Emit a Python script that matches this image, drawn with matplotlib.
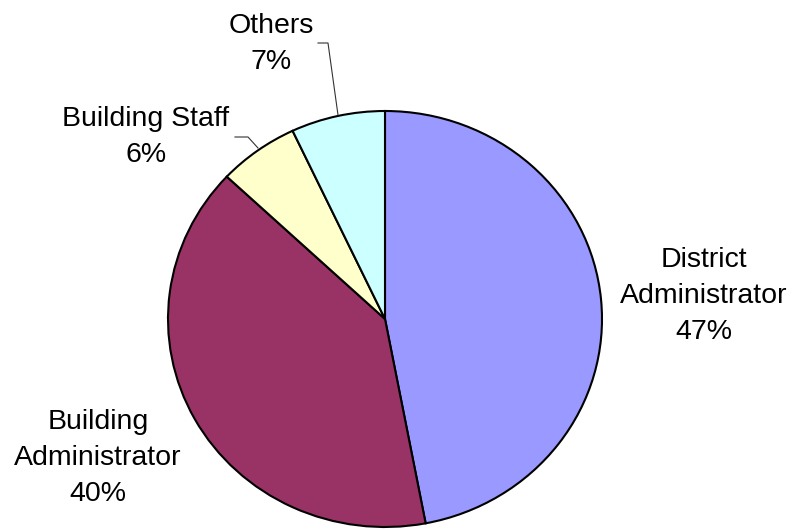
import matplotlib.pyplot as plt

# data
labels = ['District\nAdministrator', 'Building\nAdministrator', 'Building Staff', 'Others']
shares = [47, 40, 6, 7]
colors = ['#9999FF', '#993366', '#FFFFCC', '#CCFFFF']

W, H = 794, 529
cx, cy = 385, 319      # pie centre, pixels from top-left
rx, ry = 217, 208      # Excel-style slightly squashed pie


def px(x, y):
    return x / W, 1 - y / H


fig = plt.figure(figsize=(W / 100, H / 100), dpi=100)
ax = fig.add_axes([0, 0, 1, 1])
ax.pie(shares, colors=colors, startangle=90, counterclock=False, radius=1,
       wedgeprops=dict(edgecolor='black', linewidth=1.5))
ax.set_aspect('auto')
ax.set_xlim(-cx / rx, (W - cx) / rx)
ax.set_ylim(-(H - cy) / ry, cy / ry)
ax.axis('off')

# label positions (block centres, pixels)
label_pos = [(704, 296), (98, 458), (146, 137), (271, 44)]
for lab, val, (x, y) in zip(labels, shares, label_pos):
    fig.text(*px(x, y), f'{lab}\n{val}%', ha='center', va='center',
             fontsize=20.5, family='Liberation Sans', linespacing=1.52)

# leader lines
for pts in ([(318, 43), (328, 43), (338, 115)], [(235, 137), (248, 137), (258, 148)]):
    xs, ys = zip(*[px(*p) for p in pts])
    fig.add_artist(plt.Line2D(xs, ys, color='#333333', lw=0.8, transform=fig.transFigure))

fig.savefig('out.png', dpi=100)
